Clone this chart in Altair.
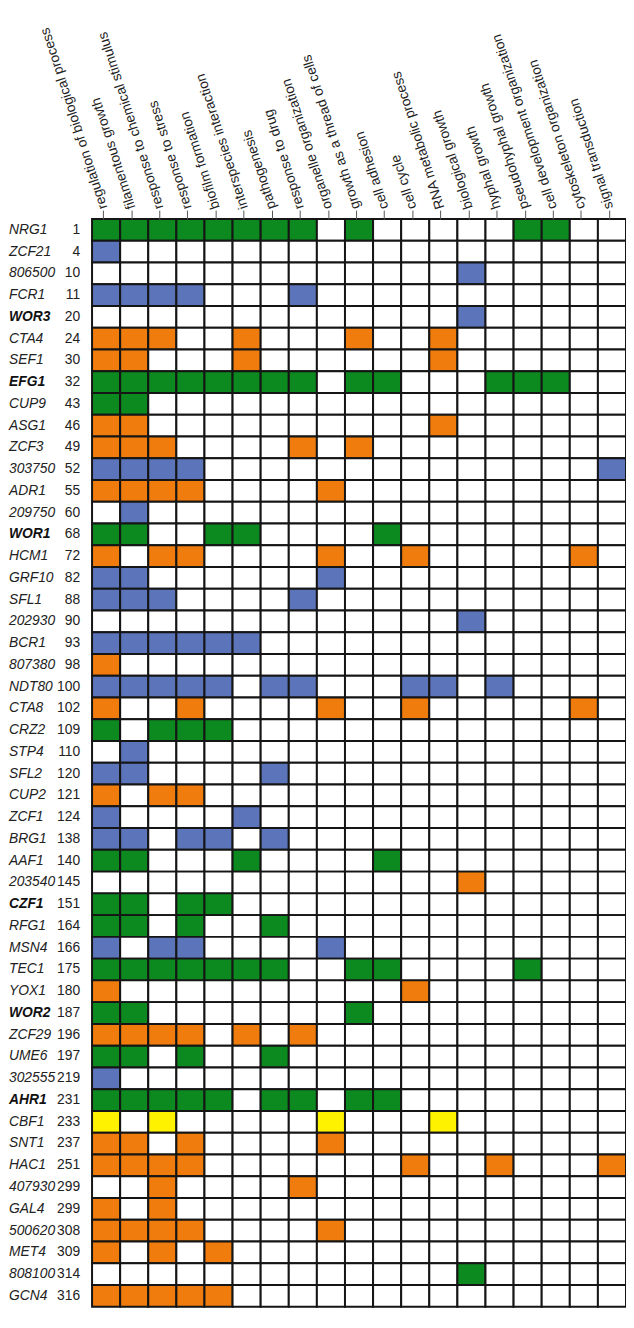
import altair as alt
import pandas as pd

processes = [
    "regulation of biological process",
    "filamentous growth",
    "response to chemical stimulus",
    "response to stress",
    "biofilm formation",
    "interspecies interaction",
    "pathogenesis",
    "response to drug",
    "organelle organization",
    "growth as a thread of cells",
    "cell adhesion",
    "cell cycle",
    "RNA metabolic process",
    "biological growth",
    "hyphal growth",
    "pseudohyphal growth",
    "cell development organization",
    "cytoskeleton organization",
    "signal transduction",
]

genes = ["NRG1", "ZCF21", "806500", "FCR1", "WOR3", "CTA4", "SEF1", "EFG1", "CUP9", "ASG1",
         "ZCF3", "303750", "ADR1", "209750", "WOR1", "HCM1", "GRF10", "SFL1", "202930", "BCR1",
         "807380", "NDT80", "CTA8", "CRZ2", "STP4", "SFL2", "CUP2", "ZCF1", "BRG1", "AAF1",
         "203540", "CZF1", "RFG1", "MSN4", "TEC1", "YOX1", "WOR2", "ZCF29", "UME6", "302555",
         "AHR1", "CBF1", "SNT1", "HAC1", "407930", "GAL4", "500620", "MET4", "808100", "GCN4"]

ranks = [1, 4, 10, 11, 20, 24, 30, 32, 43, 46,
         49, 52, 55, 60, 68, 72, 82, 88, 90, 93,
         98, 100, 102, 109, 110, 120, 121, 124, 138, 140,
         145, 151, 164, 166, 175, 180, 187, 196, 197, 219,
         231, 233, 237, 251, 299, 299, 308, 309, 314, 316]

bold_genes = ["WOR3", "EFG1", "WOR1", "CZF1", "WOR2", "AHR1"]

groups = ["green", "blue", "blue", "blue", "blue", "orange", "orange", "green", "green", "orange",
          "orange", "blue", "orange", "blue", "green", "orange", "blue", "blue", "blue", "blue",
          "orange", "blue", "orange", "green", "blue", "blue", "orange", "blue", "blue", "green",
          "orange", "green", "green", "blue", "green", "orange", "green", "orange", "green", "blue",
          "green", "yellow", "orange", "orange", "orange", "orange", "orange", "orange", "green", "orange"]

annotated = [
    [0, 1, 2, 3, 4, 5, 6, 7, 9, 15, 16],   # NRG1
    [0],                                  # ZCF21
    [13],                                 # 806500
    [0, 1, 2, 3, 7],                      # FCR1
    [13],                                 # WOR3
    [0, 1, 2, 5, 9, 12],                  # CTA4
    [0, 1, 5, 12],                        # SEF1
    [0, 1, 2, 3, 4, 5, 6, 7, 9, 10, 14, 15, 16],  # EFG1
    [0, 1],                               # CUP9
    [0, 1, 12],                           # ASG1
    [0, 1, 2, 7, 9],                      # ZCF3
    [0, 1, 2, 3, 18],                     # 303750
    [0, 1, 2, 3, 8],                      # ADR1
    [1],                                  # 209750
    [0, 1, 4, 5, 10],                     # WOR1
    [0, 2, 3, 8, 11, 17],                 # HCM1
    [0, 1, 8],                            # GRF10
    [0, 1, 2, 7],                         # SFL1
    [13],                                 # 202930
    [0, 1, 2, 3, 4, 5],                   # BCR1
    [0],                                  # 807380
    [0, 1, 2, 3, 4, 6, 7, 11, 12, 14],    # NDT80
    [0, 3, 8, 11, 17],                    # CTA8
    [0, 2, 3, 4],                         # CRZ2
    [1],                                  # STP4
    [0, 1, 6],                            # SFL2
    [0, 2, 3],                            # CUP2
    [0, 5],                               # ZCF1
    [0, 1, 3, 4, 6],                      # BRG1
    [0, 1, 5, 10],                        # AAF1
    [13],                                 # 203540
    [0, 1, 3, 4],                         # CZF1
    [0, 1, 3, 6],                         # RFG1
    [0, 2, 3, 8],                         # MSN4
    [0, 1, 2, 3, 4, 5, 6, 9, 10, 15],     # TEC1
    [0, 11],                              # YOX1
    [0, 1, 9],                            # WOR2
    [0, 1, 2, 3, 5, 7],                   # ZCF29
    [0, 1, 3, 6],                         # UME6
    [0],                                  # 302555
    [0, 1, 2, 3, 4, 6, 7, 9, 10],         # AHR1
    [0, 2, 8, 12],                        # CBF1
    [0, 1, 3, 8],                         # SNT1
    [0, 1, 2, 3, 11, 14, 18],             # HAC1
    [2, 7],                               # 407930
    [0, 2],                               # GAL4
    [0, 1, 2, 3, 8],                      # 500620
    [0, 2, 4],                            # MET4
    [13],                                 # 808100
    [0, 1, 2, 3, 4],                      # GCN4
]

color_domain = ["green", "blue", "orange", "yellow", "none"]
color_range = ["#0c8a20", "#5b74ba", "#ef7c0c", "#fff200", "#ffffff"]

rows = []
for g, grp, cols in zip(genes, groups, annotated):
    for j, p in enumerate(processes):
        rows.append({"gene": g, "process": p, "cls": grp if j in cols else "none"})
cells = pd.DataFrame(rows)

labels = pd.DataFrame({
    "gene": genes,
    "rank": [str(r) for r in ranks],
    "bold": [g in bold_genes for g in genes],
})

FONT = "Liberation Sans"

x_enc = alt.X(
    "process:N", sort=processes,
    scale=alt.Scale(paddingInner=0, paddingOuter=0),
    axis=alt.Axis(
        orient="top", title=None, domain=False,
        labelAngle=-108, labelAlign="left", labelBaseline="middle",
        labelFont=FONT, labelFontSize=14, labelColor="#222222",
        labelPadding=2, labelLimit=400, labelOverlap=False,
        tickSize=9, tickColor="#555555", tickWidth=1, tickOffset=-3,
    ),
)
y_enc = alt.Y("gene:N", sort=genes, scale=alt.Scale(paddingInner=0, paddingOuter=0), axis=None)

grid = alt.Chart(cells).mark_rect(stroke="#151515", strokeWidth=2).encode(
    x=x_enc,
    y=y_enc,
    fill=alt.Fill("cls:N", scale=alt.Scale(domain=color_domain, range=color_range), legend=None),
)

ysort = alt.Y("gene:N", sort=genes, scale=alt.Scale(paddingInner=0, paddingOuter=0), axis=None)

names_normal = alt.Chart(labels).transform_filter("!datum.bold").mark_text(
    align="left", baseline="middle", font=FONT, fontSize=14, fontStyle="italic", color="#222222"
).encode(x=alt.value(-84), y=ysort, text="gene:N")

names_bold = alt.Chart(labels).transform_filter("datum.bold").mark_text(
    align="left", baseline="middle", font=FONT, fontSize=14, fontStyle="italic",
    fontWeight="bold", color="#111111"
).encode(x=alt.value(-84), y=ysort, text="gene:N")

nums = alt.Chart(labels).mark_text(
    align="right", baseline="middle", font=FONT, fontSize=14, color="#222222"
).encode(x=alt.value(-12), y=ysort, text="rank:N")

chart = alt.layer(grid, names_normal, names_bold, nums).properties(
    width=540, height=1100,
    padding={"left": 85, "top": 206, "right": 0, "bottom": 0},
    autosize=alt.AutoSizeParams(type="none"),
).configure_view(stroke=None)

chart.save("out.html", embed_options={"renderer": "svg", "actions": False})
